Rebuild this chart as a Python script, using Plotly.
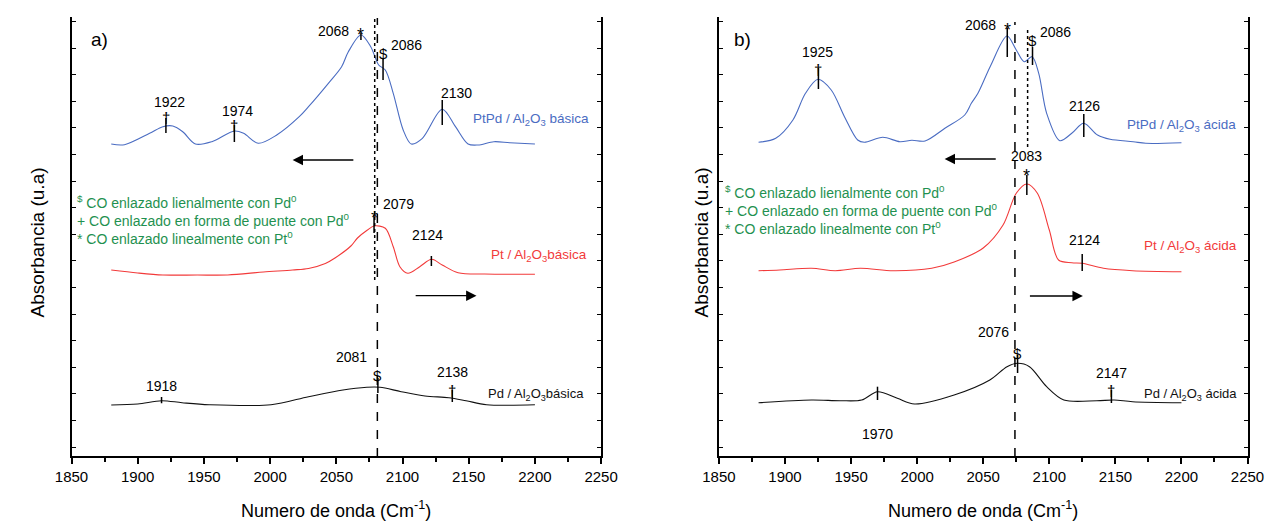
import plotly.graph_objects as go

# ---------------- data (wavenumber cm-1, absorbance a.u.) ----------------
# Panel a) – basic alumina
wn_ptpd_b = [1880, 1890, 1909, 1919, 1926.5, 1934, 1943.6, 1956, 1973, 1980, 1991, 2005, 2022, 2029, 2044,
             2054, 2059, 2068.6, 2076, 2082, 2087, 2093, 2100.5, 2106.6, 2115, 2130, 2140, 2149.5, 2157, 2169, 2181, 2200]
ab_ptpd_b = [3.13, 3.123, 3.237, 3.303, 3.31, 3.253, 3.13, 3.153, 3.26, 3.237, 3.137, 3.22, 3.403, 3.503, 3.737,
             3.903, 4.05, 4.22, 4.103, 3.92, 3.87, 3.637, 3.27, 3.13, 3.187, 3.477, 3.303, 3.13, 3.12, 3.153, 3.143, 3.13]

wn_pt_b = [1880, 1900, 1919, 1945, 1968, 1995, 2017, 2029, 2041.7, 2049, 2061, 2066, 2073.5, 2078.5, 2087, 2093,
           2098, 2104, 2113, 2122, 2130, 2142, 2162, 2200]
ab_pt_b = [1.87, 1.84, 1.82, 1.82, 1.82, 1.85, 1.87, 1.885, 1.935, 1.99, 2.11, 2.19, 2.27, 2.31, 2.287, 2.103,
           1.903, 1.837, 1.903, 1.977, 1.92, 1.843, 1.83, 1.827]

wn_pd_b = [1880, 1900, 1918, 1933.5, 1954, 2000.7, 2029, 2055, 2073, 2083, 2099, 2117, 2135, 2148, 2163.5, 2200]
ab_pd_b = [0.52, 0.53, 0.563, 0.543, 0.523, 0.523, 0.603, 0.67, 0.697, 0.697, 0.653, 0.61, 0.593, 0.563, 0.523, 0.523]

# Panel b) – acid alumina
wn_ptpd_a = [1880, 1893, 1906, 1915.5, 1925, 1935, 1945, 1955, 1960, 1974, 1987, 1996, 2006, 2021, 2036, 2041,
             2046, 2055.5, 2068, 2075, 2081, 2087, 2092, 2098, 2108, 2117, 2126, 2136.5, 2146, 2163.5, 2173, 2200]
ab_ptpd_a = [3.147, 3.187, 3.37, 3.637, 3.777, 3.67, 3.403, 3.17, 3.147, 3.197, 3.153, 3.167, 3.16, 3.287, 3.42, 3.537,
             3.637, 3.91, 4.21, 4.07, 3.953, 4.003, 3.837, 3.437, 3.163, 3.237, 3.337, 3.22, 3.177, 3.153, 3.137, 3.143]

wn_pt_a = [1880, 1896, 1920, 1938, 1957, 1982, 2011, 2028, 2050, 2065, 2075, 2083, 2091, 2100, 2107, 2117, 2125,
           2141, 2163, 2200]
ab_pt_a = [1.863, 1.87, 1.887, 1.863, 1.887, 1.863, 1.887, 1.95, 2.09, 2.32, 2.637, 2.73, 2.637, 2.27, 1.97, 1.943,
           1.937, 1.887, 1.863, 1.853]

wn_pd_a = [1880, 1920, 1942, 1958, 1970, 1985, 1998, 2028, 2055, 2068, 2076, 2085, 2098, 2111, 2136, 2149, 2163, 2200]
ab_pd_a = [0.543, 0.57, 0.563, 0.57, 0.653, 0.587, 0.53, 0.62, 0.77, 0.903, 0.937, 0.903, 0.703, 0.57, 0.563, 0.57,
           0.553, 0.543]

# Peak labels
peaks_ptpd_b = [1922, 1974, 2068, 2086, 2130]
peaks_pt_b = [2079, 2124]
peaks_pd_b = [1918, 2081, 2138]
peaks_ptpd_a = [1925, 2068, 2086, 2126]
peaks_pt_a = [2083, 2124]
peaks_pd_a = [1970, 2076, 2147]

x_ticks = [1850, 1900, 1950, 2000, 2050, 2100, 2150, 2200, 2250]

# ---------------- style ----------------
FONT = "Liberation Sans, Arial, sans-serif"
BLUE = "#4a6cc2"
RED = "#f23a3a"
GREEN = "#1f9150"
BLACK = "#111111"
NUM_SIZE = 14
SYM_SIZE = 15
LAB_SIZE = 13.5
LEG_SIZE = 14

fig = go.Figure()

series = [
    ("x", "y", wn_ptpd_b, ab_ptpd_b, BLUE),
    ("x", "y", wn_pt_b, ab_pt_b, RED),
    ("x", "y", wn_pd_b, ab_pd_b, BLACK),
    ("x2", "y2", wn_ptpd_a, ab_ptpd_a, BLUE),
    ("x2", "y2", wn_pt_a, ab_pt_a, RED),
    ("x2", "y2", wn_pd_a, ab_pd_a, BLACK),
]
for xa, ya, xs, ys, c in series:
    fig.add_trace(go.Scatter(x=xs, y=ys, mode="lines", xaxis=xa, yaxis=ya, showlegend=False,
                             line=dict(color=c, width=1.1, shape="spline", smoothing=0.9),
                             hoverinfo="skip"))

shapes = []
annotations = []


def vline(xr, yr, x, y0, y1, dash="solid", width=1.5, color="black"):
    shapes.append(dict(type="line", xref=xr, yref=yr, x0=x, x1=x, y0=y0, y1=y1,
                       line=dict(color=color, width=width, dash=dash)))


def text(xr, yr, x, y, t, size=NUM_SIZE, color="black", xanchor="center", angle=0):
    annotations.append(dict(xref=xr, yref=yr, x=x, y=y, text=t, showarrow=False, xanchor=xanchor,
                            yanchor="middle", textangle=angle,
                            font=dict(family=FONT, size=size, color=color)))


def arrow(xr, yr, x_tail, x_head, y):
    annotations.append(dict(xref=xr, yref=yr, axref=xr, ayref=yr, x=x_head, y=y, ax=x_tail, ay=y,
                            text="", showarrow=True, arrowhead=2, arrowsize=1.6, arrowwidth=1.3,
                            arrowcolor="black"))


# peak marker layout: (peak value, symbol, marker x, line y0, line y1, symbol y, text x, text y)
marks_a = [
    (peaks_ptpd_b[0], "†", 1921.3, 3.24, 3.39, 3.40, 1924, 3.55),
    (peaks_ptpd_b[1], "†", 1973, 3.15, 3.32, 3.32, 1975.5, 3.46),
    (peaks_ptpd_b[2], "*", 2068.6, 4.17, 4.24, 4.22, 2047.8, 4.263),
    (peaks_ptpd_b[3], "&#36;", 2085.3, 3.77, 3.99, 4.04, 2103, 4.12),
    (peaks_ptpd_b[4], "", 2130, 3.32, 3.57, None, 2141, 3.643),
    (peaks_pt_b[0], "*", 2078.5, 2.24, 2.42, 2.39, 2097, 2.53),
    (peaks_pt_b[1], "", 2121.8, 1.91, 2.01, None, 2119, 2.22),
    (peaks_pd_b[0], "", 1918, 0.537, 0.60, None, 1918, 0.71),
    (peaks_pd_b[1], "&#36;", 2081.4, 0.64, 0.79, 0.82, 2061.4, 1.003),
    (peaks_pd_b[2], "†", 2137.6, 0.55, 0.67, 0.67, 2137.6, 0.853),
]
marks_b = [
    (peaks_ptpd_a[0], "†", 1925.3, 3.68, 3.89, 3.88, 1924.6, 4.053),
    (peaks_ptpd_a[1], "*", 2068.2, 4.0, 4.29, 4.27, 2048, 4.32),
    (peaks_ptpd_a[2], "&#36;", 2087.3, 3.92, 4.10, 4.17, 2104.6, 4.247),
    (peaks_ptpd_a[3], "", 2126.1, 3.20, 3.43, None, 2126.7, 3.51),
    (peaks_pt_a[0], "*", 2083, 2.62, 2.82, 2.81, 2082.5, 3.01),
    (peaks_pt_a[1], "", 2124.9, 1.86, 2.03, None, 2126.7, 2.17),
    (peaks_pd_a[0], "", 1970, 0.57, 0.703, None, 1970, 0.23),
    (peaks_pd_a[1], "&#36;", 2076, 0.84, 1.02, 1.04, 2058, 1.253),
    (peaks_pd_a[2], "†", 2147, 0.54, 0.67, 0.67, 2147, 0.837),
]
for xr, yr, marks in (("x", "y", marks_a), ("x2", "y2", marks_b)):
    for val, sym, mx, l0, l1, sy, tx, ty in marks:
        vline(xr, yr, mx, l0, l1)
        if sym:
            text(xr, yr, mx, sy, sym, size=(SYM_SIZE + 3 if sym == "*" else SYM_SIZE))
        text(xr, yr, tx, ty, str(val), size=NUM_SIZE)

# reference vertical lines
vline("x", "y", 2079, 1.77, 4.39, dash="dot", width=1.5)
vline("x", "y", 2081, 0.0, 4.39, dash="dash", width=1.5)
vline("x2", "y2", 2074, 0.0, 4.35, dash="dash", width=1.5)
vline("x2", "y2", 2083.6, 3.10, 4.30, dash="dot", width=1.5)

# arrows
arrow("x", "y", 2064, 2017, 2.97)
arrow("x", "y", 2108.8, 2155.9, 1.613)
arrow("x2", "y2", 2060.6, 2020.8, 2.98)
arrow("x2", "y2", 2084.2, 2125.4, 1.61)

# sample labels
text("x", "y", 2197, 3.38, "PtPd / Al<sub>2</sub>O<sub>3</sub> básica", size=LAB_SIZE, color=BLUE)
text("x", "y", 2203, 2.02, "Pt / Al<sub>2</sub>O<sub>3</sub>básica", size=LAB_SIZE, color=RED)
text("x", "y", 2201, 0.63, "Pd / Al<sub>2</sub>O<sub>3</sub>básica", size=LAB_SIZE - 0.5, color=BLACK)
text("x2", "y2", 2199.8, 3.313, "PtPd / Al<sub>2</sub>O<sub>3</sub> ácida", size=LAB_SIZE, color=BLUE)
text("x2", "y2", 2207, 2.103, "Pt / Al<sub>2</sub>O<sub>3</sub> ácida", size=LAB_SIZE, color=RED)
text("x2", "y2", 2207, 0.63, "Pd / Al<sub>2</sub>O<sub>3</sub> ácida", size=LAB_SIZE - 0.5, color=BLACK)

# legend notes
legend_lines = [
    "<sup>&#36;</sup> CO enlazado lienalmente con Pd<sup>0</sup>",
    "+ CO enlazado en forma de puente con Pd<sup>0</sup>",
    "* CO enlazado linealmente con Pt<sup>0</sup>",
]
for xr, yr, ys in (("x", "y", [2.553, 2.37, 2.19]), ("x2", "y2", [2.653, 2.47, 2.29])):
    for t, yy in zip(legend_lines, ys):
        text(xr, yr, 1852.9, yy, t, size=LEG_SIZE, color=GREEN, xanchor="left")

# panel letters
text("x", "y", 1871.3, 4.18, "a)", size=19)
text("x2", "y2", 1867.7, 4.177, "b)", size=19)

# axis titles
for cx in ((56 + 600) / 2 / 1284, (721 + 1264) / 2 / 1284):
    annotations.append(dict(xref="paper", yref="paper", x=cx, y=1 - 509 / 524, xanchor="center", yanchor="middle",
                            text="Numero de onda (Cm<sup>-1</sup>)",
                            showarrow=False, font=dict(family=FONT, size=18, color="black")))
for cx in (21 / 1284, 703 / 1284):
    annotations.append(dict(xref="paper", yref="paper", x=cx, y=1 - 242 / 524, xanchor="center", yanchor="middle",
                            text="Absorbancia (u.a)",
                            textangle=-90, showarrow=False, font=dict(family=FONT, size=19, color="black")))

YDOM = [1 - 456 / 524, 1 - 17 / 524]
XDOM1 = [56 / 1284, 600 / 1284]
XDOM2 = [721 / 1284, 1264 / 1284]
YRANGE = [0.01, 4.40]


def bottom_axis(dom, anchor):
    return dict(domain=dom, anchor=anchor, range=[1850, 2250], tickmode="array", tickvals=x_ticks,
                ticks="outside", ticklen=6, tickwidth=1.5, tickcolor="black",
                minor=dict(tickmode="linear", tick0=1850, dtick=25, ticks="outside", ticklen=4, tickwidth=1.5,
                           tickcolor="black"),
                showline=True, linecolor="black", linewidth=2, showgrid=False, zeroline=False,
                tickfont=dict(family=FONT, size=15, color="black"))


def top_axis(over, anchor):
    return dict(overlaying=over, anchor=anchor, side="top", range=[1850, 2250], tickmode="linear", tick0=1850,
                dtick=25, ticks="inside", ticklen=4, tickwidth=1.2, tickcolor="black", showticklabels=False,
                showline=True, linecolor="black", linewidth=2, showgrid=False, zeroline=False)


def y_axis(anchor):
    return dict(domain=YDOM, anchor=anchor, range=YRANGE, tickmode="linear", tick0=0.1, dtick=0.266,
                ticks="inside", ticklen=4, tickwidth=1.2, tickcolor="black", mirror="ticks",
                showticklabels=False, showline=True, linecolor="black", linewidth=2, showgrid=False,
                zeroline=False)


fig.update_layout(
    width=1284, height=524, margin=dict(l=0, r=0, t=0, b=0),
    paper_bgcolor="white", plot_bgcolor="white",
    font=dict(family=FONT, color="black"),
    xaxis=bottom_axis(XDOM1, "y"),
    xaxis2=bottom_axis(XDOM2, "y2"),
    xaxis3=top_axis("x", "y"),
    xaxis4=top_axis("x2", "y2"),
    yaxis=y_axis("x"),
    yaxis2=y_axis("x2"),
    shapes=shapes,
    annotations=annotations,
    showlegend=False,
)

fig.write_html("out.html")
